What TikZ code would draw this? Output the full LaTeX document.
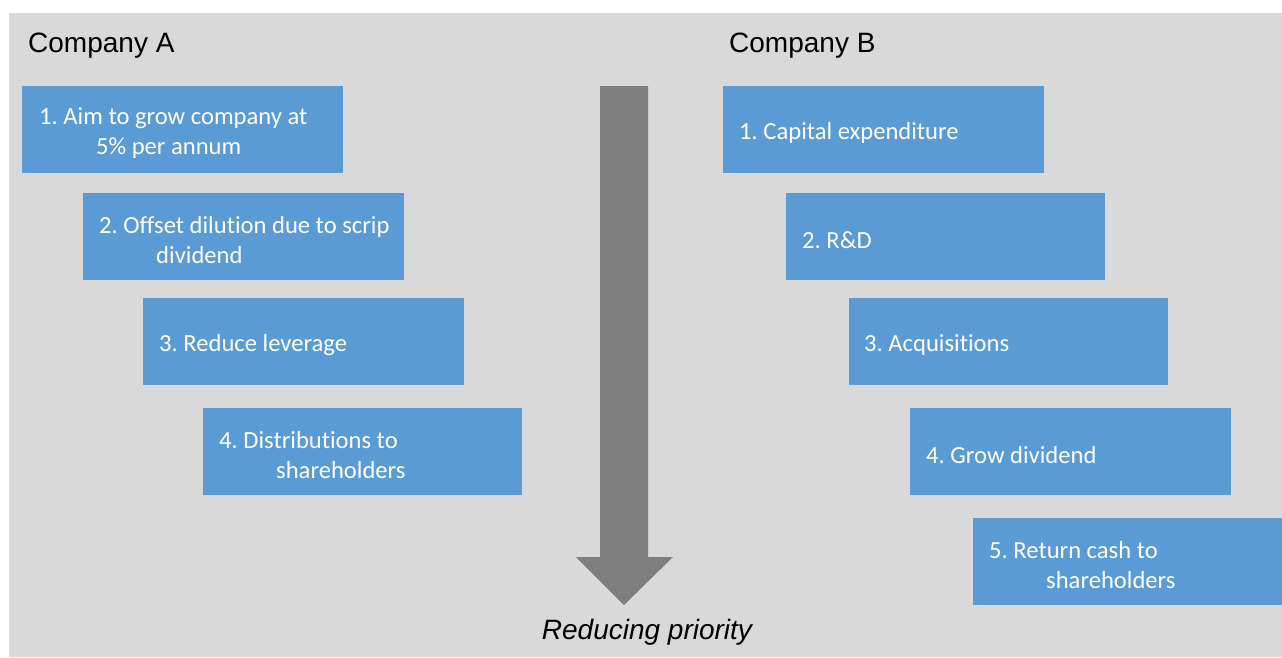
\documentclass[tikz,border=0pt]{standalone}
\usepackage{fontspec}
\setmainfont{Carlito}[Ligatures={NoCommon}]
\newfontfamily\arialfont{Liberation Sans}
\definecolor{bggray}{HTML}{D9D9D9}
\definecolor{boxblue}{HTML}{5B9BD5}
\definecolor{arrowgray}{HTML}{7F7F7F}
\tikzset{
  prio/.style={fill=boxblue, draw=none, anchor=north west,
    minimum width=321pt, minimum height=87pt, inner sep=0pt},
  priotext/.style={text=white, anchor=west, inner sep=0pt, align=left,
    font=\frenchspacing\fontsize{24.6}{30}\selectfont},
  title/.style={anchor=base west, inner sep=0pt, font=\arialfont\fontsize{28}{32}\selectfont}
}
\begin{document}
\frenchspacing
\begin{tikzpicture}[x=1pt,y=-1pt]
\useasboundingbox (0,0) rectangle (1282,657);
\fill[bggray] (9,13) rectangle (1282,657);
% titles
\node[title] (ta) at (28,52) {Company A};
\node[title] (tb) at (729,52) {Company B};
% Company A boxes
\node[prio] (a1) at (22,86) {};
\node[priotext] (a1t) at ([xshift=17pt,yshift=-3pt]a1.west) {1. Aim to grow company at\\\hspace*{57pt}5\% per annum};
\node[prio] (a2) at (83,193) {};
\node[priotext] (a2t) at ([xshift=16pt,yshift=-3pt]a2.west) {2. Offset dilution due to scrip\\\hspace*{57pt}dividend};
\node[prio] (a3) at (143,298) {};
\node[priotext] (a3t) at ([xshift=16pt,yshift=-3pt]a3.west) {3. Reduce leverage};
\node[prio, minimum width=319pt] (a4) at (203,408) {};
\node[priotext] (a4t) at ([xshift=16pt,yshift=-3pt]a4.west) {4. Distributions to\\\hspace*{57pt}shareholders};
% Company B boxes
\node[prio] (b1) at (723,86) {};
\node[priotext] (b1t) at ([xshift=16pt,yshift=-3pt]b1.west) {1. Capital expenditure};
\node[prio, minimum width=319pt] (b2) at (786,193) {};
\node[priotext] (b2t) at ([xshift=16pt,yshift=-3pt]b2.west) {2. R\&D};
\node[prio, minimum width=319pt] (b3) at (849,298) {};
\node[priotext] (b3t) at ([xshift=15pt,yshift=-3pt]b3.west) {3. Acquisitions};
\node[prio] (b4) at (910,408) {};
\node[priotext] (b4t) at ([xshift=16pt,yshift=-3pt]b4.west) {4. Grow dividend};
\node[prio, minimum width=309pt] (b5) at (973,518) {};
\node[priotext] (b5t) at ([xshift=16pt,yshift=-3pt]b5.west) {5. Return cash to\\\hspace*{57pt}shareholders};
% arrow
\fill[arrowgray] (600,86) -- (648,86) -- (648,557) -- (673,557) -- (624,605) -- (576,557) -- (600,557) -- cycle;
\node[anchor=center, inner sep=0pt, font=\arialfont\itshape\fontsize{28}{32}\selectfont] (rp) at (647,632) {Reducing priority};
\end{tikzpicture}
\end{document}
